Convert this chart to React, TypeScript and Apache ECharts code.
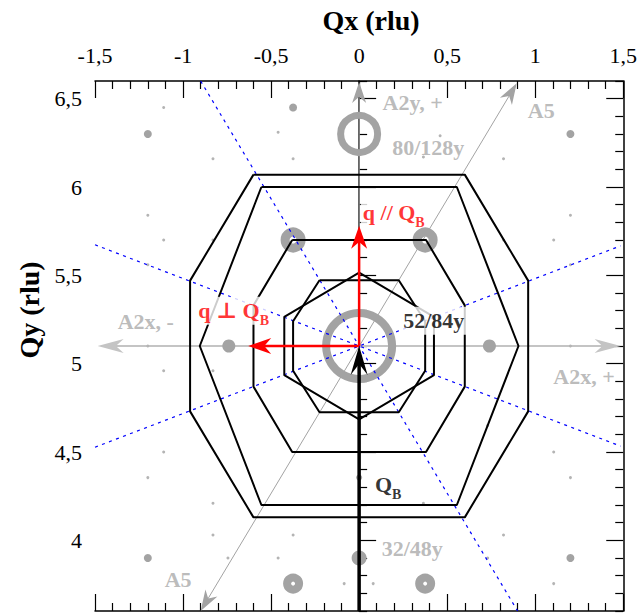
import React, { useEffect, useRef } from 'react';
import * as echarts from 'echarts';

// ---------- axis ticks ----------
const yLabelValues = [4, 4.5, 5, 5.5, 6, 6.5];
const yMinorValues: number[] = [];
for (let i = 36; i <= 66; i++) if (i % 5 !== 0) yMinorValues.push(i / 10);

// ---------- contours (black) ----------
const outerOctagon = [[-0.6, 6.07], [0.6, 6.07], [0.96, 5.47], [0.96, 4.73], [0.6, 4.13], [-0.6, 4.13], [-0.96, 4.73], [-0.96, 5.47], [-0.6, 6.07]];
const hexagonLarge = [[-0.555, 6.0], [0.555, 6.0], [0.905, 5.1], [0.555, 4.2], [-0.555, 4.2], [-0.905, 5.1], [-0.555, 6.0]];
const octagonMid = [[-0.38, 5.7], [0.38, 5.7], [0.6, 5.33], [0.6, 4.87], [0.38, 4.5], [-0.38, 4.5], [-0.6, 4.87], [-0.6, 5.33], [-0.38, 5.7]];
const octagonSmall = [[-0.225, 5.472], [0.225, 5.472], [0.375, 5.24], [0.375, 4.96], [0.225, 4.725], [-0.225, 4.725], [-0.375, 4.96], [-0.375, 5.24], [-0.225, 5.472]];
const hexagonSmall = [[0, 5.515], [0.425, 5.265], [0.425, 4.935], [0, 4.685], [-0.425, 4.935], [-0.425, 5.265], [0, 5.515]];

// ---------- blue dashed boundaries ----------
const blueLine1 = [[-0.9, 6.6], [0.9, 3.6]];
const blueLine2 = [[-1.5, 5.673], [1.485, 4.533]];
const blueLine3 = [[-1.5, 4.527], [1.485, 5.667]];

// ---------- arrows [x1, y1, x2, y2] ----------
const axisA2y = [0, 3.6, 0, 6.594];
const axisA2x = [-1.485, 5.1, 1.485, 5.1];
const axisA5 = [-0.9, 3.6, 0.895, 6.587];
const arrowQB = [0, 3.6, 0, 5.1];
const arrowQParallel = [0, 5.1, 0, 5.78];
const arrowQPerp = [0, 5.1, -0.63, 5.1];

// ---------- reciprocal-space points ----------
const bigRing = [[0, 5.1]];
const topRing = [[0, 6.3]];
const midRings = [[-0.375, 5.7], [0.375, 5.7]];
const lowRings = [[-0.375, 3.755], [0.375, 3.755]];
const braggDot = [[0, 3.9]];
const sideDots = [[-0.74, 5.1], [0.74, 5.1]];
const mediumDots = [[-1.2, 6.3], [-0.375, 6.45], [1.2, 6.3], [-1.2, 3.9], [1.2, 3.9]];
const centreDot = [[0, 4.355]];
const smallDots = [
  [-1.11, 6.45], [-0.46, 6.31], [0.46, 6.29], [-0.83, 6.16], [-0.375, 6.16], [0.365, 6.17], [0.82, 6.16],
  [-1.2, 5.84], [-1.11, 5.7], [-0.83, 5.7], [-1.2, 5.56], [1.2, 5.84], [1.105, 5.7], [0.82, 5.7], [1.2, 5.56],
  [-1.11, 4.96], [-0.83, 4.96], [0.73, 4.65], [-1.11, 4.5], [1.105, 4.5], [-1.2, 4.355], [1.2, 4.355],
  [-0.83, 4.21], [0.365, 4.21], [-0.83, 4.03], [-0.375, 4.03], [0.82, 4.03],
  [-0.745, 3.9], [-0.46, 3.9], [0.73, 3.9], [-0.085, 3.755], [0.08, 3.755], [1.105, 3.755],
  [-1.2, 5.1], [1.2, 5.1],
];

// ---------- annotations ----------
const greyLabelText = ['A2y, +', 'A5', '80/128y', 'A2x, -', 'A2x, +', '32/48y', 'A5'];
const greyLabelX = [0.13, 0.955, 0.185, -1.374, 1.1, 0.125, -1.107];
const greyLabelY = [6.481, 6.432, 6.223, 5.24, 4.925, 3.955, 3.778];
const redLabelMain = ['q // Q', 'q \u22a5 Q'];
const redLabelSub = ['B', 'B'];
const redLabelX = [0.0067, -0.928];
const redLabelY = [5.858, 5.3];
const blackLabelMain = ['52/84y', 'Q'];
const blackLabelSub = ['', 'B'];
const blackLabelX = [0.236, 0.076];
const blackLabelY = [5.243, 4.317];

const GREY = '#a3a3a3';
const GREY_TEXT = '#aaaaaa';
const SERIF = '"Liberation Serif", "DejaVu Serif", serif';

function arrowSeries(seg: number[], o: { color: string; width: number; L: number; W: number; notch: number; both?: boolean; z: number }) {
  return {
    type: 'custom',
    silent: true,
    clip: false,
    z: o.z,
    dimensions: ['x1', 'y1', 'x2', 'y2'],
    encode: { x: [0, 2], y: [1, 3] },
    data: [seg],
    renderItem: (params: any, api: any) => {
      const a = api.coord([api.value(0), api.value(1)]);
      const b = api.coord([api.value(2), api.value(3)]);
      const dx = b[0] - a[0];
      const dy = b[1] - a[1];
      const len = Math.hypot(dx, dy) || 1;
      const ux = dx / len;
      const uy = dy / len;
      const head = (tip: number[], sx: number, sy: number) => {
        const bx = tip[0] - sx * o.L;
        const by = tip[1] - sy * o.L;
        const nx = -sy;
        const ny = sx;
        return {
          type: 'polygon',
          shape: {
            points: [
              [tip[0], tip[1]],
              [bx + nx * o.W, by + ny * o.W],
              [tip[0] - sx * o.L * o.notch, tip[1] - sy * o.L * o.notch],
              [bx - nx * o.W, by - ny * o.W],
            ],
          },
          style: { fill: o.color },
        };
      };
      const k = o.L * o.notch * 0.9;
      const start = o.both ? [a[0] + ux * k, a[1] + uy * k] : a;
      const end = [b[0] - ux * k, b[1] - uy * k];
      const children: any[] = [
        { type: 'line', shape: { x1: start[0], y1: start[1], x2: end[0], y2: end[1] }, style: { stroke: o.color, lineWidth: o.width, fill: null } },
        head(b, ux, uy),
      ];
      if (o.both) children.push(head(a, -ux, -uy));
      return { type: 'group', children };
    },
  };
}

function polySeries(data: number[][], color: string, width: number, z: number, dash?: any) {
  return {
    type: 'line',
    data,
    symbol: 'none',
    showSymbol: false,
    silent: true,
    z,
    lineStyle: { color, width, type: dash || 'solid' },
  };
}

function dotSeries(data: number[][], size: number, z: number, ring?: number, color: string = GREY) {
  return {
    type: 'scatter',
    data,
    symbol: 'circle',
    symbolSize: size,
    silent: true,
    z,
    itemStyle: ring
      ? { color: 'rgba(0,0,0,0)', borderColor: color, borderWidth: ring, opacity: 1 }
      : { color, opacity: 1 },
  };
}

function greyLabelSeries(text: string[], xs: number[], ys: number[], z: number) {
  return {
    type: 'scatter',
    symbol: 'circle',
    symbolSize: 1,
    silent: true,
    z,
    itemStyle: { color: 'rgba(0,0,0,0)' },
    data: text.map((t, i) => ({ name: t, value: [xs[i], ys[i]] })),
    label: {
      show: true,
      position: 'right',
      distance: 0,
      formatter: '{b}',
      color: GREY_TEXT,
      fontFamily: SERIF,
      fontWeight: 'bold',
      fontSize: 22,
    },
  };
}

// labels with a subscript, drawn on a white box that hides the lines beneath
function subLabelSeries(main: string[], sub: string[], xs: number[], ys: number[], color: string, z: number) {
  return {
    type: 'scatter',
    symbol: 'circle',
    symbolSize: 1,
    silent: true,
    z,
    itemStyle: { color: 'rgba(0,0,0,0)' },
    data: main.map((t, i) => ({ name: t, value: [xs[i], ys[i]], sub: sub[i] })),
    label: {
      show: true,
      position: 'right',
      distance: 0,
      formatter: (p: any) => (p.data.sub ? `{m|${p.name}}{s|${p.data.sub}}` : `{m|${p.name}}{s| }`),
      backgroundColor: '#ffffff',
      padding: [3, 2, 3, 2],
      rich: {
        m: { color, fontFamily: SERIF, fontWeight: 'bold', fontSize: 22, lineHeight: 22, verticalAlign: 'top' },
        s: { color, fontFamily: SERIF, fontWeight: 'bold', fontSize: 14, lineHeight: 14, padding: [14, 0, 0, 0], verticalAlign: 'top' },
      },
    },
  };
}

const tickLabelFmt = (v: number) => String(v).replace('.', ',');

function xAxisDef(position: 'top' | 'bottom', labels: boolean) {
  return {
    type: 'value',
    position,
    min: -1.5,
    max: 1.5,
    interval: 0.5,
    axisLine: { show: true, lineStyle: { color: '#000', width: 1.5 } },
    axisTick: { show: true, inside: true, length: 17, lineStyle: { color: '#000', width: 1.2 } },
    minorTick: { show: true, splitNumber: 5, length: 8, lineStyle: { color: '#000', width: 1.2 } },
    splitLine: { show: false },
    minorSplitLine: { show: false },
    axisLabel: {
      show: labels,
      margin: 15,
      formatter: tickLabelFmt,
      color: '#000',
      fontFamily: SERIF,
      fontSize: 22,
      showMinLabel: true,
      showMaxLabel: true,
    },
  };
}

function yAxisDef(position: 'left' | 'right', major: boolean, labels: boolean) {
  return {
    type: 'value',
    position,
    min: 3.6,
    max: 6.6,
    axisLine: { show: major, lineStyle: { color: '#000', width: 1.5 } },
    axisTick: {
      show: true,
      inside: true,
      length: major ? 17 : 8,
      customValues: major ? yLabelValues : yMinorValues,
      lineStyle: { color: '#000', width: 1.2 },
    },
    splitLine: { show: false },
    axisLabel: {
      show: labels,
      customValues: yLabelValues,
      margin: 13,
      formatter: tickLabelFmt,
      color: '#000',
      fontFamily: SERIF,
      fontSize: 22,
    },
  };
}

export default function App() {
  const ref = useRef<HTMLDivElement>(null);
  useEffect(() => {
    if (!ref.current) return;
    const chart = echarts.init(ref.current, null, { renderer: 'svg' });
    const option: any = {
      animation: false,
      backgroundColor: '#ffffff',
      grid: { left: 95, top: 81, width: 534, height: 530 },
      graphic: [
        {
          type: 'text',
          x: 371,
          y: 20,
          silent: true,
          style: { text: 'Qx (rlu)', fill: '#000', font: `bold 28px ${SERIF}`, align: 'center', verticalAlign: 'middle', textAlign: 'center', textVerticalAlign: 'middle' },
        },
        {
          type: 'text',
          x: 29,
          y: 310,
          rotation: Math.PI / 2,
          silent: true,
          style: { text: 'Qy (rlu)', fill: '#000', font: `bold 28px ${SERIF}`, align: 'center', verticalAlign: 'middle', textAlign: 'center', textVerticalAlign: 'middle' },
        },
      ],
      xAxis: [xAxisDef('top', true), xAxisDef('bottom', false)],
      yAxis: [yAxisDef('left', true, true), yAxisDef('left', false, false), yAxisDef('right', true, false), yAxisDef('right', false, false)],
      series: [
        // grey instrument axes
        arrowSeries(axisA2x, { color: '#c4c4c4', width: 2, L: 26, W: 7, notch: 0.7, both: true, z: 1 }),
        arrowSeries(axisA2y, { color: GREY, width: 1, L: 21, W: 7, notch: 0.7, z: 1 }),
        arrowSeries(axisA5, { color: GREY, width: 1, L: 21, W: 7, notch: 0.7, both: true, z: 1 }),
        // points
        dotSeries(smallDots, 3, 2, 0, '#b4b4b4'),
        dotSeries(centreDot, 6, 2),
        dotSeries(mediumDots, 8, 2),
        dotSeries(sideDots, 13, 2),
        dotSeries(braggDot, 15, 2),
        dotSeries(bigRing, 66, 2, 8),
        dotSeries(topRing, 37, 2, 7),
        dotSeries(midRings, 16, 2, 9),
        dotSeries(lowRings, 12, 2, 8),
        // blue dashed lines
        polySeries(blueLine1, '#0000ff', 1.2, 3, [3, 4.5]),
        polySeries(blueLine2, '#0000ff', 1.2, 3, [3, 4.5]),
        polySeries(blueLine3, '#0000ff', 1.2, 3, [3, 4.5]),
        // black contours
        polySeries(outerOctagon, '#000', 2, 4),
        polySeries(hexagonLarge, '#000', 2, 4),
        polySeries(octagonMid, '#000', 2, 4),
        polySeries(octagonSmall, '#000', 2, 4),
        polySeries(hexagonSmall, '#000', 2, 4),
        // arrows
        arrowSeries(arrowQB, { color: '#000', width: 3.5, L: 29, W: 8.5, notch: 0.62, z: 5 }),
        arrowSeries(arrowQParallel, { color: '#ff0000', width: 2.5, L: 23, W: 8, notch: 0.7, z: 5 }),
        arrowSeries(arrowQPerp, { color: '#ff0000', width: 2.5, L: 23, W: 8, notch: 0.7, z: 5 }),
        // labels
        greyLabelSeries(greyLabelText, greyLabelX, greyLabelY, 6),
        subLabelSeries(redLabelMain, redLabelSub, redLabelX, redLabelY, '#ff0000', 6),
        subLabelSeries(blackLabelMain, blackLabelSub, blackLabelX, blackLabelY, '#000', 6),
      ],
    };
    chart.setOption(option);
    return () => chart.dispose();
  }, []);
  return <div ref={ref} style={{ position: 'fixed', left: 0, top: 0, width: 640, height: 615 }} />;
}
